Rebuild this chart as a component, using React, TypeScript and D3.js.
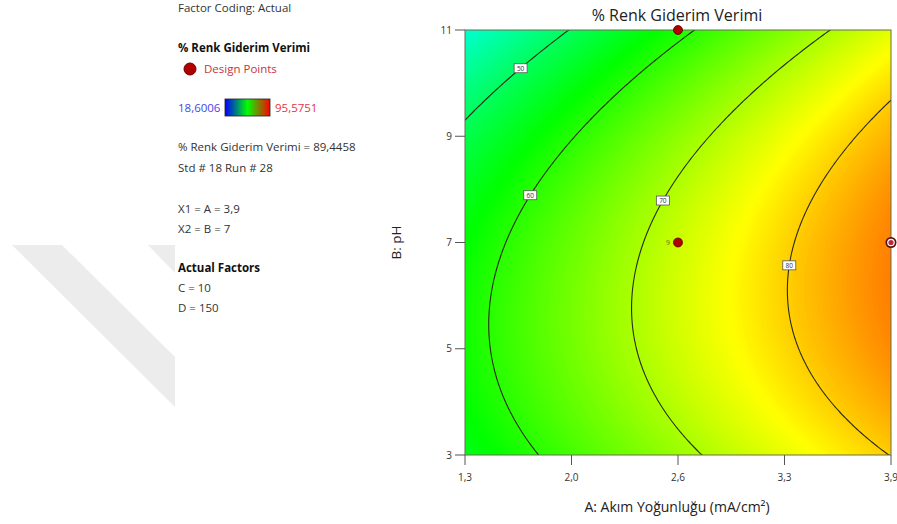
import React, { useMemo } from 'react';
import * as d3 from 'd3';

const W = 897;
const H = 524;

// Factor ranges (actual units)
const currentDensityRange = [1.3, 3.9];
const phRange = [3, 11];

// Axis ticks
const xTickValues = [1.3, 1.95, 2.6, 3.25, 3.9];
const xTickLabels = ['1,3', '2,0', '2,6', '3,3', '3,9'];
const yTickValues = [3, 5, 7, 9, 11];
const yTickLabels = ['3', '5', '7', '9', '11'];

// Quadratic response model in coded units: [b0, A, B, AB, A², B²]
const modelCoefficients = [72.38, 14.5, -4.94, 2.0, -1.0, -8.71];

// Response range of the whole design (colour scale)
const responseMin = 18.6006;
const responseMax = 95.5751;

// Contour lines and the pH where each label sits
const contourLevels = [50, 60, 70, 80];
const contourLabelPh = [10.28, 7.89, 7.79, 6.57];

// Design points in this slice
const designA = [2.6, 2.6, 3.9];
const designB = [11, 7, 7];
const designReplicates = [1, 9, 1];
const selectedPoint = 2;

// Legend texts
const infoLines = [
  '% Renk Giderim Verimi = 89,4458',
  'Std # 18 Run # 28',
];
const coordLines = ['X1 = A = 3,9', 'X2 = B = 7'];
const factorLines = ['C = 10', 'D = 150'];

const FONT = "'Open Sans', 'Noto Sans', sans-serif";

const plot = { left: 465, right: 891, top: 30, bottom: 455 };

function response(a: number, b: number): number {
  const [b0, bA, bB, bAB, bAA, bBB] = modelCoefficients;
  const x1 = (a - 2.6) / 1.3;
  const x2 = (b - 7) / 4;
  return b0 + bA * x1 + bB * x2 + bAB * x1 * x2 + bAA * x1 * x1 + bBB * x2 * x2;
}

function colorOf(v: number): string {
  const t = Math.max(0, Math.min(1, (v - responseMin) / (responseMax - responseMin)));
  return d3.hsl(240 * (1 - t), 1, 0.5).formatHex();
}

// Solve response(a, b) = level for a, by bisection
function solveA(level: number, b: number): number {
  let lo = currentDensityRange[0];
  let hi = currentDensityRange[1];
  for (let i = 0; i < 60; i++) {
    const mid = (lo + hi) / 2;
    if (response(mid, b) < level) lo = mid;
    else hi = mid;
  }
  return (lo + hi) / 2;
}

export default function App() {
  const x = d3.scaleLinear().domain(currentDensityRange).range([plot.left, plot.right]);
  const y = d3.scaleLinear().domain(phRange).range([plot.bottom, plot.top]);

  const { bands, lines } = useMemo(() => {
    const pad = 3;
    const nA0 = 131;
    const nB0 = 101;
    const dA = (currentDensityRange[1] - currentDensityRange[0]) / (nA0 - 1);
    const dB = (phRange[1] - phRange[0]) / (nB0 - 1);
    const nx = nA0 + 2 * pad;
    const ny = nB0 + 2 * pad;
    const a0 = currentDensityRange[0] - pad * dA;
    const b0 = phRange[0] - pad * dB;
    const values = new Array(nx * ny);
    for (let j = 0; j < ny; j++) {
      for (let i = 0; i < nx; i++) {
        values[j * nx + i] = response(a0 + i * dA, b0 + j * dB);
      }
    }
    const proj = d3.geoTransform({
      point(gx: number, gy: number) {
        (this as any).stream.point(x(a0 + (gx - 0.5) * dA), y(b0 + (gy - 0.5) * dB));
      },
    });
    const path = d3.geoPath(proj);
    const step = 0.25;
    const fillThresholds = d3.range(30, 95, step);
    const fills = d3
      .contours()
      .size([nx, ny])
      .thresholds(fillThresholds)(values)
      .filter((c) => c.coordinates.length > 0)
      .map((c) => ({ d: path(c as any) || '', color: colorOf(c.value + step / 2) }));
    const lineGeoms = d3
      .contours()
      .size([nx, ny])
      .thresholds(contourLevels)(values)
      .map((c) => ({ d: path(c as any) || '', value: c.value }));
    return { bands: fills, lines: lineGeoms };
  }, []);

  const textColor = '#333';

  return (
    <svg
      width={W}
      height={H}
      viewBox={`0 0 ${W} ${H}`}
      style={{ position: 'absolute', left: 0, top: 0, background: '#fff' }}
      fontFamily={FONT}
    >
      <defs>
        <clipPath id="plot-clip">
          <rect x={plot.left} y={plot.top} width={plot.right - plot.left} height={plot.bottom - plot.top} />
        </clipPath>
        <linearGradient id="legend-grad" x1="0" x2="1" y1="0" y2="0">
          <stop offset="0" stopColor="#0000ff" />
          <stop offset="0.5" stopColor="#00ff00" />
          <stop offset="1" stopColor="#ff0000" />
        </linearGradient>
      </defs>

      {/* faint background mark */}
      <g fill="#ececec">
        <polygon points="12,245 62,245 175,357 175,407" />
        <polygon points="148,245 175,245 175,273" />
      </g>

      {/* legend panel */}
      <g fill={textColor} fontSize={11.5}>
        <text x={178} y={12}>Factor Coding: Actual</text>
        <text x={178} y={52} fontWeight="bold" fill="#111">% Renk Giderim Verimi</text>
        <circle cx={190} cy={69} r={6} fill="#b00000" stroke="#6a0000" strokeWidth={1} />
        <text x={204} y={73} fill="#c8323c">Design Points</text>
        <text x={178} y={112} fill="#4646e6">18,6006</text>
        <rect x={225} y={99} width={45} height={17} fill="url(#legend-grad)" stroke="#222" strokeWidth={0.8} />
        <text x={275} y={112} fill="#e63246">95,5751</text>
        {infoLines.map((t, i) => (
          <text key={t} x={178} y={151 + i * 20.5}>{t}</text>
        ))}
        {coordLines.map((t, i) => (
          <text key={t} x={178} y={213 + i * 20}>{t}</text>
        ))}
        <text x={178} y={272} fontWeight="bold" fill="#111">Actual Factors</text>
        {factorLines.map((t, i) => (
          <text key={t} x={178} y={292 + i * 20}>{t}</text>
        ))}
      </g>

      {/* filled response surface */}
      <g clipPath="url(#plot-clip)">
        <rect x={plot.left} y={plot.top} width={plot.right - plot.left} height={plot.bottom - plot.top} fill={colorOf(30)} />
        {bands.map((b, i) => (
          <path key={i} d={b.d} fill={b.color} />
        ))}
        {lines.map((l) => (
          <path key={l.value} d={l.d} fill="none" stroke="#2a2a1e" strokeWidth={1.1} />
        ))}
      </g>

      {/* plot frame */}
      <rect
        x={plot.left}
        y={plot.top}
        width={plot.right - plot.left}
        height={plot.bottom - plot.top}
        fill="none"
        stroke="#6b6b50"
        strokeWidth={1}
      />

      {/* contour labels */}
      {contourLevels.map((lv, i) => {
        const b = contourLabelPh[i];
        const px = x(solveA(lv, b));
        const py = y(b);
        return (
          <g key={lv}>
            <rect x={px - 6.5} y={py - 4.5} width={13} height={9} fill="#fff" stroke="#555" strokeWidth={0.8} />
            <text x={px} y={py + 2.5} fontSize={6.5} textAnchor="middle" fill="#333">{lv}</text>
          </g>
        );
      })}

      {/* design points */}
      {designA.map((a, i) => {
        const px = x(a);
        const py = y(designB[i]);
        if (i === selectedPoint) {
          return (
            <g key={i}>
              <circle cx={px} cy={py} r={5.5} fill="#5e1010" />
              <circle cx={px} cy={py} r={3.8} fill="#fff" />
              <circle cx={px} cy={py} r={2.6} fill="#c02838" />
            </g>
          );
        }
        return (
          <g key={i}>
            <circle cx={px} cy={py} r={4.5} fill="#b00000" stroke="#5a0000" strokeWidth={0.8} />
            {designReplicates[i] > 1 && (
              <text x={px - 8} y={py + 2.5} fontSize={7} textAnchor="end" fill="#7a6a10">
                {designReplicates[i]}
              </text>
            )}
          </g>
        );
      })}

      {/* axes */}
      <g stroke="#555" strokeWidth={1}>
        {yTickValues.map((v) => (
          <line key={v} x1={plot.left - 10} x2={plot.left} y1={y(v)} y2={y(v)} />
        ))}
        {xTickValues.map((v) => (
          <line key={v} x1={x(v)} x2={x(v)} y1={plot.bottom} y2={plot.bottom + 10} />
        ))}
      </g>
      <g fontSize={10} fill={textColor}>
        {yTickValues.map((v, i) => (
          <text key={v} x={plot.left - 13} y={y(v) + 3.5} textAnchor="end">{yTickLabels[i]}</text>
        ))}
        {xTickValues.map((v, i) => (
          <text key={v} x={x(v)} y={481} textAnchor="middle">{xTickLabels[i]}</text>
        ))}
      </g>

      <text x={(plot.left + plot.right) / 2 - 1} y={21} fontSize={16} textAnchor="middle" fill="#222">
        % Renk Giderim Verimi
      </text>
      <text x={(plot.left + plot.right) / 2 - 1} y={512} fontSize={14} textAnchor="middle" fill="#222">
        A: Akım Yoğunluğu (mA/cm²)
      </text>
      <text
        transform={`translate(401, ${(plot.top + plot.bottom) / 2}) rotate(-90)`}
        fontSize={13.5}
        textAnchor="middle"
        fill="#222"
      >
        B: pH
      </text>
    </svg>
  );
}
